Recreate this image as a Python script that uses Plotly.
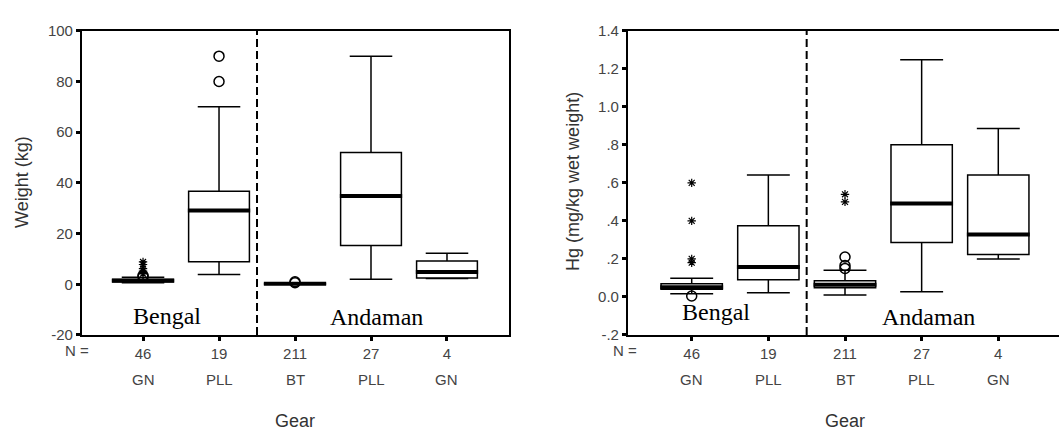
import plotly.graph_objects as go

# ---------------- data ----------------
positions = [1, 2, 3, 4, 5]
gear_labels = ["GN", "PLL", "BT", "PLL", "GN"]
n_labels = ["46", "19", "211", "27", "4"]

# Weight (kg) box statistics
w_lower = [0.6, 3.9, 0.05, 2.0, 2.3]
w_q1 = [1.0, 8.9, 0.1, 15.3, 2.5]
w_median = [1.4, 29.1, 0.2, 34.8, 4.8]
w_q3 = [2.0, 36.7, 0.3, 52.0, 9.2]
w_upper = [2.8, 70.0, 0.5, 90.0, 12.2]
# Weight outliers
w_circ_x = [1, 1, 2, 2, 3, 3]
w_circ_y = [3.0, 3.4, 80.0, 90.0, 0.6, 1.0]
w_star_x = [1, 1, 1, 1, 1]
w_star_y = [4.2, 5.2, 6.2, 7.8, 8.8]

# Hg (mg/kg wet weight) box statistics
h_lower = [0.017, 0.022, 0.010, 0.027, 0.200]
h_q1 = [0.040, 0.090, 0.048, 0.287, 0.223]
h_median = [0.051, 0.157, 0.064, 0.491, 0.329]
h_q3 = [0.069, 0.375, 0.085, 0.800, 0.641]
h_upper = [0.098, 0.641, 0.140, 1.248, 0.886]
# Hg outliers
h_circ_x = [1, 3, 3, 3]
h_circ_y = [0.005, 0.150, 0.165, 0.210]
h_star_x = [1, 1, 1, 1, 3, 3]
h_star_y = [0.18, 0.20, 0.40, 0.60, 0.50, 0.54]

w_ticks = [-20, 0, 20, 40, 60, 80, 100]
w_ticktext = ["-20", "0", "20", "40", "60", "80", "100"]
h_ticks = [-0.2, 0.0, 0.2, 0.4, 0.6, 0.8, 1.0, 1.2, 1.4]
h_ticktext = ["-.2", "0.0", ".2", ".4", ".6", ".8", "1.0", "1.2", "1.4"]

# ---------------- figure ----------------
fig = go.Figure()
HALF = 0.41


def add_panel(xa, ya, lower, q1, med, q3, upper, cx, cy, sx, sy):
    fig.add_trace(go.Box(
        x=positions, q1=q1, median=med, q3=q3, lowerfence=lower, upperfence=upper,
        width=0.8, whiskerwidth=0.7, boxpoints=False,
        line=dict(color="black", width=1.5), fillcolor="white",
        xaxis=xa, yaxis=ya, showlegend=False, hoverinfo="skip"))
    mx, my = [], []
    for p, m in zip(positions, med):
        mx += [p - HALF, p + HALF, None]
        my += [m, m, None]
    fig.add_trace(go.Scatter(x=mx, y=my, mode="lines",
                             line=dict(color="black", width=4),
                             xaxis=xa, yaxis=ya, showlegend=False, hoverinfo="skip"))
    fig.add_trace(go.Scatter(x=cx, y=cy, mode="markers",
                             marker=dict(symbol="circle-open", size=10, color="black",
                                         line=dict(width=1.5, color="black")),
                             xaxis=xa, yaxis=ya, showlegend=False, hoverinfo="skip"))
    fig.add_trace(go.Scatter(x=sx, y=sy, mode="markers",
                             marker=dict(symbol="asterisk-open", size=7, color="black",
                                         line=dict(width=1.2, color="black")),
                             xaxis=xa, yaxis=ya, showlegend=False, hoverinfo="skip"))


add_panel("x", "y", w_lower, w_q1, w_median, w_q3, w_upper, w_circ_x, w_circ_y, w_star_x, w_star_y)
add_panel("x2", "y2", h_lower, h_q1, h_median, h_q3, h_upper, h_circ_x, h_circ_y, h_star_x, h_star_y)

tickfont = dict(family="Liberation Sans, Arial, sans-serif", size=15, color="#444")
axis_common = dict(showgrid=False, zeroline=False, showline=True, linecolor="black",
                   linewidth=1.5, ticks="outside", ticklen=4, tickwidth=2.5,
                   tickcolor="black", tickfont=tickfont)

ydom = [1 - 339.3 / 432, 1 - 22.7 / 432]
fig.update_layout(
    width=1059, height=432, margin=dict(l=0, r=0, t=0, b=0),
    paper_bgcolor="white", plot_bgcolor="white",
    xaxis=dict(domain=[81.7 / 1059, 509 / 1059], range=[0.193, 5.816],
               tickmode="array", tickvals=positions, ticktext=n_labels,
               mirror=True, anchor="y", **axis_common),
    yaxis=dict(domain=ydom, range=[-20, 100], tickmode="array",
               tickvals=w_ticks, ticktext=w_ticktext, mirror=True, anchor="x",
               **axis_common),
    xaxis2=dict(domain=[627.7 / 1059, 1.0], range=[0.165, 5.792],
                tickmode="array", tickvals=positions, ticktext=n_labels,
                mirror=True, anchor="y2", **axis_common),
    yaxis2=dict(domain=ydom, range=[-0.2, 1.4], tickmode="array",
                tickvals=h_ticks, ticktext=h_ticktext, mirror=False, anchor="x2",
                **axis_common),
)

# dashed separators between regions
for xr, yr in [("x", "y"), ("x2", "y2")]:
    fig.add_shape(type="line", xref=xr, yref=yr + " domain", x0=2.5, x1=2.5, y0=0, y1=1,
                  line=dict(color="black", width=2, dash="8px,4px"))

annots = []
titlefont = dict(family="Liberation Sans, Arial, sans-serif", size=18, color="#333")
serif = dict(family="Liberation Serif, Times New Roman, serif", size=24, color="black")
for xr, nx, gx, yt_x, ytitle in [("x", 91, 295, 22, "Weight (kg)"),
                                 ("x2", 639, 844.7, 573, "Hg (mg/kg wet weight)")]:
    for p, g in zip(positions, gear_labels):
        annots.append(dict(x=p, y=1 - 386 / 432, xref=xr, yref="paper", text=g,
                           showarrow=False, font=tickfont, xanchor="center", yanchor="middle"))
    annots.append(dict(x=nx / 1059, y=1 - 355 / 432, xref="paper", yref="paper", text="N =",
                       showarrow=False, font=tickfont, xanchor="right", yanchor="middle"))
    annots.append(dict(x=gx / 1059, y=-9 / 432, xref="paper", yref="paper", text="Gear",
                       showarrow=False, font=titlefont, xanchor="center", yanchor="bottom"))
    annots.append(dict(x=yt_x / 1059, y=1 - 180 / 432, xref="paper", yref="paper", text=ytitle,
                       showarrow=False, font=titlefont, textangle=-90,
                       xanchor="center", yanchor="middle"))

annots.append(dict(x=1.32, y=-12.5, xref="x", yref="y", text="Bengal", showarrow=False,
                   font=serif, xanchor="center", yanchor="middle"))
annots.append(dict(x=4.07, y=-13.0, xref="x", yref="y", text="Andaman", showarrow=False,
                   font=serif, xanchor="center", yanchor="middle"))
annots.append(dict(x=1.32, y=-0.078, xref="x2", yref="y2", text="Bengal", showarrow=False,
                   font=serif, xanchor="center", yanchor="middle"))
annots.append(dict(x=4.09, y=-0.104, xref="x2", yref="y2", text="Andaman", showarrow=False,
                   font=serif, xanchor="center", yanchor="middle"))
fig.update_layout(annotations=annots)

fig.write_html("out.html", config={"displayModeBar": False})
